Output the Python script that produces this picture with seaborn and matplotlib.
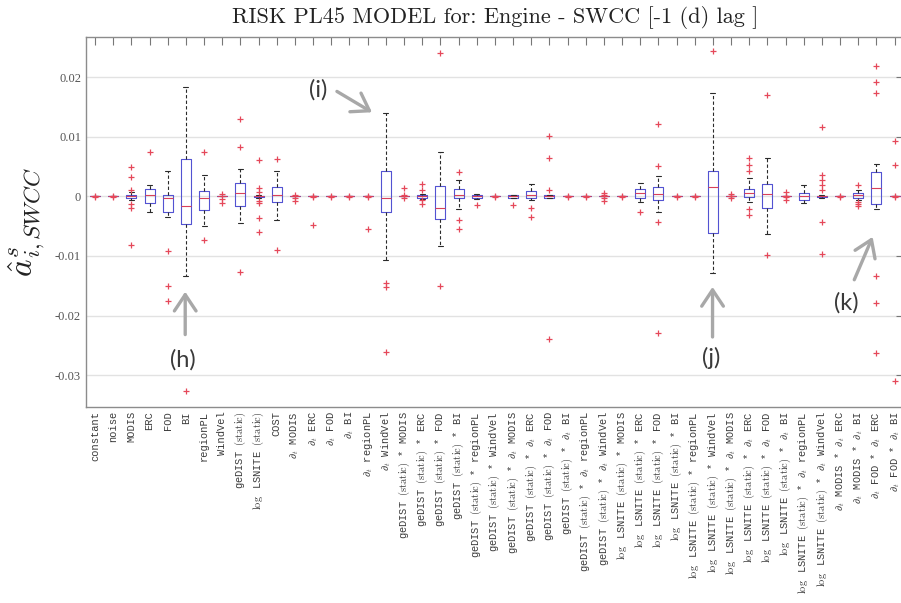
import numpy as np
import pandas as pd
import matplotlib
matplotlib.use("Agg")
import matplotlib.pyplot as plt
import seaborn as sns

# ---- model terms (x axis) -------------------------------------------------
GE = r"geDIST $\mathrm{(static)}$"
LS = r"$\log$ LSNITE $\mathrm{(static)}$"
D = r"$\partial_t$"

base_terms = ["constant", "noise", "MODIS", "ERC", "FOD", "BI", "regionPL",
              "WindVel", GE, LS, "COST"]
deriv_terms = [f"{D} MODIS", f"{D} ERC", f"{D} FOD", f"{D} BI",
               f"{D} regionPL", f"{D} WindVel"]
ge_terms = [f"{GE} * MODIS", f"{GE} * ERC", f"{GE} * FOD", f"{GE} * BI",
            f"{GE} * regionPL", f"{GE} * WindVel", f"{GE} * {D} MODIS",
            f"{GE} * {D} ERC", f"{GE} * {D} FOD", f"{GE} * {D} BI",
            f"{GE} * {D} regionPL", f"{GE} * {D} WindVel"]
ls_terms = [f"{LS} * MODIS", f"{LS} * ERC", f"{LS} * FOD", f"{LS} * BI",
            f"{LS} * regionPL", f"{LS} * WindVel", f"{LS} * {D} MODIS",
            f"{LS} * {D} ERC", f"{LS} * {D} FOD", f"{LS} * {D} BI",
            f"{LS} * {D} regionPL", f"{LS} * {D} WindVel"]
cross_terms = [f"{D} MODIS * {D} ERC", f"{D} MODIS * {D} BI",
               f"{D} FOD * {D} ERC", f"{D} FOD * {D} BI"]
terms = base_terms + deriv_terms + ge_terms + ls_terms + cross_terms

# ---- box statistics per term ----------------------------------------------
whisker_lo = [0, 0, -0.0007, -0.0027, -0.0034, -0.0133, -0.0050, 0, -0.0044, -0.0003, -0.0040,
              0, 0, 0, 0, 0, -0.0107,
              0, -0.0004, -0.0083, -0.0022, -0.0004, 0, -0.0003, -0.0006, -0.0003, 0, 0, 0,
              0, -0.0009, -0.0026, 0, 0, -0.0129, 0, -0.0010, -0.0063, 0, -0.0012, -0.0002,
              0, -0.0006, -0.0021, 0]
q1 = [0, 0, -0.0003, -0.0012, -0.0027, -0.0046, -0.0023, 0, -0.0017, -0.0001, -0.0010,
      0, 0, 0, 0, 0, -0.0026,
      0, -0.0002, -0.0038, -0.0003, -0.0002, 0, -0.0002, -0.0002, -0.0002, 0, 0, 0,
      0, -0.0003, -0.0006, 0, 0, -0.0061, 0, -0.0001, -0.0020, 0, -0.0007, -0.0001,
      0, -0.0002, -0.0013, 0]
median = [0, 0, 0, 0.0003, -0.0003, -0.0016, -0.0003, 0, 0.0006, 0, 0.0002,
          0, 0, 0, 0, 0, -0.0003,
          0, 0, -0.0020, 0.0003, 0, 0, 0, 0.0002, 0, 0, 0, 0,
          0, 0.0005, 0.0004, 0, 0, 0.0015, 0, 0.0005, 0.0004, 0, 0.0000, 0,
          0, 0.0002, 0.0014, 0]
q3 = [0, 0, 0.0003, 0.0012, 0.0003, 0.0063, 0.0009, 0, 0.0022, 0.0001, 0.0016,
      0, 0, 0, 0, 0, 0.0042,
      0, 0.0002, 0.0017, 0.0012, 0.0002, 0, 0.0003, 0.0009, 0.0002, 0, 0, 0,
      0, 0.0012, 0.0015, 0, 0, 0.0042, 0, 0.0013, 0.0021, 0, 0.0006, 0.0001,
      0, 0.0005, 0.0041, 0]
whisker_hi = [0, 0, 0.0007, 0.0019, 0.0042, 0.0184, 0.0036, 0, 0.0046, 0.0003, 0.0042,
              0, 0, 0, 0, 0, 0.0140,
              0, 0.0004, 0.0075, 0.0027, 0.0004, 0, 0.0003, 0.0021, 0.0003, 0, 0, 0,
              0, 0.0023, 0.0034, 0, 0, 0.0174, 0, 0.0030, 0.0064, 0, 0.0019, 0.0002,
              0, 0.0010, 0.0054, 0]

# ---- outlying estimates per term ------------------------------------------
outliers = [
    [0.0001, -0.0001],
    [0.0001, -0.0001],
    [0.0049, 0.0033, 0.0011, -0.0013, -0.0019, -0.0082],
    [0.0074],
    [-0.0091, -0.0151, -0.0176],
    [-0.0327],
    [0.0074, -0.0073],
    [0.0004, -0.0004, -0.0011],
    [0.0129, 0.0083, -0.0127],
    [0.0061, 0.0014, 0.0007, -0.0008, -0.0011, -0.0037, -0.0060],
    [0.0062, -0.0090],
    [0.0002, -0.0002, -0.0008],
    [0.0001, -0.0001, -0.0048],
    [0.0001, -0.0001],
    [0.0001, -0.0001],
    [0.0001, -0.0001, -0.0055],
    [-0.0146, -0.0152, -0.0262],
    [0.0014, 0.0002, -0.0002],
    [0.0020, 0.0011, -0.0007, -0.0013],
    [0.0240, -0.0150],
    [0.0041, -0.0040, -0.0055],
    [-0.0015],
    [0.0001, -0.0001],
    [-0.0015],
    [-0.0020, -0.0034],
    [0.0101, 0.0065, 0.0010, -0.0239],
    [0.0001, -0.0001],
    [0.0001, -0.0001],
    [0.0006, 0.0003, -0.0003, -0.0008],
    [0.0001, -0.0001],
    [-0.0027],
    [0.0122, 0.0051, -0.0043, -0.0230],
    [0.0001, -0.0001],
    [0.0001, -0.0001],
    [0.0243],
    [0.0004, 0.0001, -0.0003],
    [0.0064, 0.0053, 0.0043, -0.0022, -0.0031],
    [0.0170, -0.0098],
    [0.0007, 0.0001, -0.0001, -0.0007],
    [],
    [0.0116, 0.0036, 0.0027, 0.0019, 0.0010, -0.0043, -0.0096],
    [0.0001, -0.0001],
    [0.0019, -0.0010, -0.0013, -0.0016],
    [0.0219, 0.0192, 0.0173, -0.0134, -0.0179, -0.0263],
    [0.0092, 0.0052, 0.0001, -0.0001, -0.0310],
]

ytick_values = [-0.03, -0.02, -0.01, 0, 0.01, 0.02]
ytick_labels = ["-0.03", "-0.02", "-0.01", "0", "0.01", "0.02"]

# long-form tables for seaborn
box_rows = []
for t, a, b, c, d, e in zip(terms, whisker_lo, q1, median, q3, whisker_hi):
    for v in (a, b, c, d, e):
        box_rows.append((t, v))
box_df = pd.DataFrame(box_rows, columns=["term", "coef"])
out_df = pd.DataFrame([(t, v) for t, vals in zip(terms, outliers) for v in vals],
                      columns=["term", "coef"])

# ---- styling ---------------------------------------------------------------
sns.set_theme(style="white")
plt.rcParams["mathtext.fontset"] = "cm"
plt.rcParams["axes.unicode_minus"] = False

fig = plt.figure(figsize=(9.01, 6.03), dpi=100)
ax = fig.add_axes([86 / 901, 196 / 603, 817.7 / 901, 370 / 603])

sns.boxplot(data=box_df, x="term", y="coef", order=terms, whis=(0, 100),
            fill=False, color="#5353d2", saturation=1, width=0.55,
            linewidth=0.8, showfliers=False, ax=ax,
            whiskerprops=dict(color="#2a2a2a", linestyle=(0, (3, 2)), linewidth=0.8),
            capprops=dict(color="#2a2a2a", linewidth=0.8),
            medianprops=dict(color="#d8405a", linewidth=0.8))

sns.stripplot(data=out_df, x="term", y="coef", order=terms, jitter=False,
              marker="+", color="#e5485a", size=5, linewidth=0.9, ax=ax)

ax.set_xlim(-0.5, len(terms) - 0.5)
ax.set_ylim(-0.03535, 0.02673)
ax.set_yticks(ytick_values)
ax.set_yticklabels(ytick_labels, family="Liberation Serif", fontsize=9, color="#555555")
ax.set_xticks(range(len(terms)))
ax.set_xticklabels(terms, rotation=90, family="Liberation Mono", fontsize=7.5,
                   color="#3a3a3a")
ax.set_xlabel("")
ax.set_ylabel(r"$\hat{a}^{s}_{i,SWCC}$", fontsize=24, color="#222222", labelpad=6)

ax.yaxis.grid(True, color="#e2e2e2", linewidth=1.0)
ax.set_axisbelow(True)
ax.tick_params(axis="both", direction="in", top=True, right=True, length=6,
               width=0.8, color="#777777")
ax.tick_params(axis="x", pad=3)
for s in ax.spines.values():
    s.set_visible(True)
    s.set_color("#8c8c8c")
    s.set_linewidth(1.0)

ax.set_title("RISK PL45 MODEL for: Engine - SWCC [-1 (d) lag ]",
             family="cmr10", fontsize=16, color="#222222", pad=10)

# ---- callouts --------------------------------------------------------------
arrow_kw = dict(arrowstyle="->,head_length=0.45,head_width=0.3", color="#a8a8a8",
                lw=2.4, mutation_scale=26, shrinkA=0, shrinkB=0)
callouts = [
    ("(h)", (4.83, -0.0274), (4.96, -0.0232), (4.96, -0.0160)),
    ("(i)", (12.29, 0.0178), (13.31, 0.0176), (15.24, 0.0141)),
    ("(j)", (33.88, -0.0271), (33.98, -0.0236), (33.98, -0.0152)),
    ("(k)", (41.36, -0.0179), (41.78, -0.0140), (42.79, -0.0068)),
]
for label, txy, start, tip in callouts:
    ax.annotate("", xy=tip, xytext=start, arrowprops=arrow_kw)
    ax.text(*txy, label, family="Lato", fontsize=17, color="#3a3a3a",
            ha="center", va="center")

fig.savefig("out.png", dpi=100)
